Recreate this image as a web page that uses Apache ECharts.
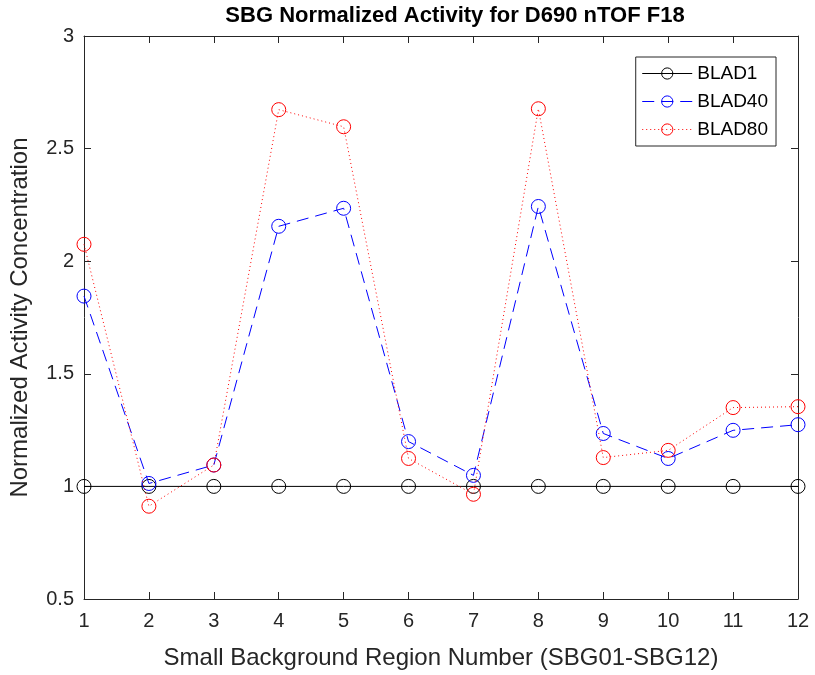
<!DOCTYPE html>
<html>
<head>
<meta charset="utf-8">
<script src="https://cdn.jsdelivr.net/npm/echarts@6/dist/echarts.min.js"></script>
<style>
  html, body { margin: 0; padding: 0; background: #fff; }
  #chart { width: 815px; height: 675px; }
</style>
</head>
<body>
<div id="chart"></div>
<script>
// Region numbers SBG01..SBG12
const regions = [1, 2, 3, 4, 5, 6, 7, 8, 9, 10, 11, 12];
const blad1 = [1, 1, 1, 1, 1, 1, 1, 1, 1, 1, 1, 1];
const blad40 = [1.845, 1.013, 1.095, 2.155, 2.235, 1.199, 1.049, 2.243, 1.235, 1.124, 1.249, 1.274];
const blad80 = [2.075, 0.912, 1.095, 2.673, 2.597, 1.124, 0.965, 2.677, 1.128, 1.160, 1.350, 1.354];
const yTicks = [0.5, 1, 1.5, 2, 2.5, 3];

const FONT = '"Liberation Sans", Arial, Helvetica, sans-serif';
const AX = '#262626';

const pairs = (ys) => regions.map((x, i) => [x, ys[i]]);

const chart = echarts.init(document.getElementById('chart'), null, { renderer: 'canvas' });

const baseX = {
  type: 'value', min: 1, max: 12, interval: 1,
  axisLine: { show: true, onZero: false, lineStyle: { color: AX, width: 1 } },
  axisTick: { show: true, inside: true, length: 7, lineStyle: { color: AX } },
  splitLine: { show: false }
};
const baseY = {
  type: 'value', min: 0.5, max: 3, interval: 0.5,
  axisLine: { show: true, onZero: false, lineStyle: { color: AX, width: 1 } },
  axisTick: { show: true, inside: true, length: 7, lineStyle: { color: AX } },
  splitLine: { show: false }
};

function series(name, ys, color, type, z) {
  return {
    name, type: 'line', data: pairs(ys),
    symbol: 'circle', symbolSize: 14,
    itemStyle: { color: 'rgba(255,255,255,0)', borderColor: color, borderWidth: 1 },
    lineStyle: { color: color, width: 1, type: type },
    emphasis: { disabled: true },
    z: z
  };
}

chart.setOption({
  animation: false,
  backgroundColor: '#ffffff',
  title: {
    text: 'SBG Normalized Activity for D690 nTOF F18',
    left: 450, top: 0, textAlign: 'center',
    textStyle: { fontFamily: FONT, fontSize: 22, fontWeight: 'bold', color: '#000' }
  },
  grid: { left: 82, right: 17, top: 36, bottom: 74, containLabel: false },
  legend: {
    orient: 'vertical', right: 39, top: 57,
    data: ['BLAD1', 'BLAD40', 'BLAD80'],
    backgroundColor: '#fff', borderColor: AX, borderWidth: 1,
    padding: [7, 8, 7, 6], itemGap: 9, itemWidth: 50, itemHeight: 14,
    itemStyle: { borderWidth: 1 },
    lineStyle: { width: 1 },
    textStyle: { fontFamily: FONT, fontSize: 19, color: '#000' }
  },
  xAxis: [
    Object.assign({}, baseX, {
      position: 'bottom',
      name: 'Small Background Region Number (SBG01-SBG12)',
      nameLocation: 'middle', nameGap: 47,
      nameTextStyle: { fontFamily: FONT, fontSize: 24, color: AX },
      axisLabel: { fontFamily: FONT, fontSize: 20, color: AX, margin: 12 }
    }),
    Object.assign({}, baseX, { position: 'top', axisLabel: { show: false } })
  ],
  yAxis: [
    Object.assign({}, baseY, {
      position: 'left',
      name: 'Normalized Activity Concentration',
      nameLocation: 'middle', nameGap: 52,
      nameTextStyle: { fontFamily: FONT, fontSize: 24, color: AX },
      axisLabel: {
        fontFamily: FONT, fontSize: 20, color: AX, margin: 10,
        formatter: (v) => (yTicks.includes(v) ? String(v) : '')
      }
    }),
    Object.assign({}, baseY, { position: 'right', axisLabel: { show: false } })
  ],
  series: [
    series('BLAD1', blad1, '#000000', 'solid', 3),
    series('BLAD40', blad40, '#0000ff', [12, 7], 4),
    series('BLAD80', blad80, '#ff0000', [1, 3], 5)
  ]
});
</script>
</body>
</html>
